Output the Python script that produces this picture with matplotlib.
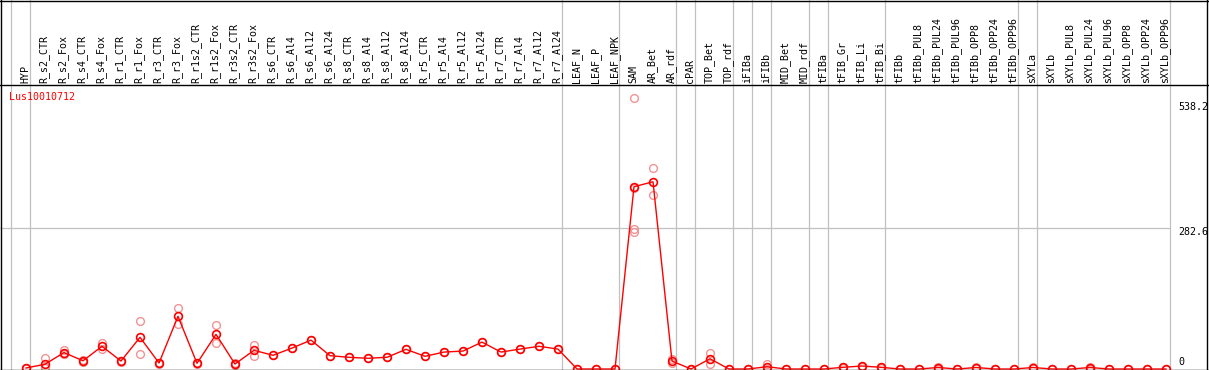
import matplotlib
matplotlib.use("Agg")
import matplotlib.pyplot as plt
from matplotlib.lines import Line2D
import numpy as np

# ---------------- data ----------------
gene = "Lus10010712"

categories = [
    "HYP",
    "R_s2_CTR", "R_s2_Fox", "R_s4_CTR", "R_s4_Fox", "R_r1_CTR", "R_r1_Fox",
    "R_r3_CTR", "R_r3_Fox", "R_r1s2_CTR", "R_r1s2_Fox", "R_r3s2_CTR", "R_r3s2_Fox",
    "R_s6_CTR", "R_s6_Al4", "R_s6_Al12", "R_s6_Al24", "R_s8_CTR", "R_s8_Al4",
    "R_s8_Al12", "R_s8_Al24", "R_r5_CTR", "R_r5_Al4", "R_r5_Al12", "R_r5_Al24",
    "R_r7_CTR", "R_r7_Al4", "R_r7_Al12", "R_r7_Al24",
    "LEAF_N", "LEAF_P", "LEAF_NPK",
    "SAM", "AR_Bet", "AR_rdf",
    "cPAR",
    "TOP_Bet", "TOP_rdf",
    "iFIBa",
    "iFIBb",
    "MID_Bet", "MID_rdf",
    "tFIBa",
    "tFIB_Gr", "tFIB_Li", "tFIB_Bi",
    "tFIBb", "tFIBb_PUL8", "tFIBb_PUL24", "tFIBb_PUL96", "tFIBb_OPP8",
    "tFIBb_OPP24", "tFIBb_OPP96",
    "sXYLa",
    "sXYLb", "sXYLb_PUL8", "sXYLb_PUL24", "sXYLb_PUL96", "sXYLb_OPP8",
    "sXYLb_OPP24", "sXYLb_OPP96",
]

group_sizes = [1, 28, 3, 3, 1, 2, 1, 1, 2, 1, 3, 7, 1, 7]

means = [2, 9.5, 33, 16.5, 45.6, 16, 63.6, 12, 105.8, 11.4, 69.6, 10, 37.5,
         27.5, 42, 58, 26.7, 23.5, 21.5, 23.5, 39.5, 25.5, 34, 36, 54,
         34, 40, 45.6, 40,
         0, 0, 0,
         366, 376, 16,
         0,
         20.5, 0,
         0,
         4.6,
         0, 0,
         0,
         3.4, 6, 3.4,
         0, 0, 3, 0, 3, 0, 0,
         3,
         0, 0, 3, 0, 0, 0, 0]

replicates = [
    [2, 3], [21.5, 5, 2], [38, 30, 31], [19, 14], [52, 40], [17, 15],
    [96, 31], [13, 11], [122, 90], [12, 11], [87.6, 51.5], [12, 8], [48.5, 26.5],
    [27.5], [42], [58], [26.7], [23.5], [21.5], [23.5], [39.5], [25.5], [34],
    [36], [54], [34], [40], [45.6], [40],
    [0], [0], [0],
    [544, 363, 280.5, 275.7], [403.6, 348.8], [19.5, 12.7],
    [0],
    [31.5, 9.4], [0],
    [0],
    [10, 0],
    [0], [0],
    [0],
    [4, 3], [7, 5], [4, 3],
    [0], [0], [5, 1], [0], [4, 2], [0], [0],
    [4, 2],
    [0], [0], [5, 1], [0], [0], [0], [0],
]

scale_labels = ["538.2", "282.6", "0"]
grid_value = 282.6

# ---------------- layout helpers ----------------
W, H = 1209, 370
X0, DX = 26, 19          # pixel x of first category and spacing
ZERO_Y, PX_PER_UNIT = 369, 0.498
HEADER_Y = 85

def fx(px):
    return px / W

def fy(py):
    return 1 - py / H

red = "#ff0000"
pink = "#f09494"
grey = "#c0c0c0"
mono = "DejaVu Sans Mono"
fs = 7.2

fig = plt.figure(figsize=(W / 100, H / 100), dpi=100)

xlim = (-X0 / DX, (W - X0) / DX)
ylim = (-(H - ZERO_Y) / PX_PER_UNIT, (ZERO_Y - HEADER_Y) / PX_PER_UNIT)

ax = fig.add_axes([0, 0, 1, fy(HEADER_Y)])
axh = fig.add_axes([0, fy(HEADER_Y), 1, HEADER_Y / H])
for a in (ax, axh):
    a.set_xlim(*xlim)
    a.set_axis_off()
ax.set_ylim(*ylim)
axh.set_ylim(0, 1)

x = np.arange(len(categories))

# group separators (full height)
bounds = np.cumsum([0] + group_sizes) - 1
off = 4 / DX
for b in bounds:
    for a in (ax, axh):
        a.axvline(b + off, color=grey, lw=0.9, zorder=1)

# horizontal gridline
ax.hlines(grid_value, xlim[0], bounds[-1] + off, color=grey, lw=0.9, zorder=1)

# replicates
for xi, reps in zip(x, replicates):
    ax.plot([xi] * len(reps), reps, linestyle="none", marker="o",
            markersize=5.6, markerfacecolor="none", markeredgecolor=pink,
            markeredgewidth=1.0, zorder=2)

# means
ax.plot(x, means, color=red, lw=1.0, marker="o", markersize=5.6,
        markerfacecolor="none", markeredgecolor=red, markeredgewidth=1.2,
        zorder=3)

# header labels
for xi, lab in zip(x, categories):
    axh.text(xi - 0.05, 2 / HEADER_Y, lab, rotation=90, ha="center",
             va="bottom", fontsize=fs, family=mono, color="black")

# gene name
fig.text(fx(9), fy(97), gene, color=red, fontsize=fs, family=mono,
         ha="left", va="center")

# scale labels
for lab, py in zip(scale_labels, [106.5, 232, 362]):
    fig.text(fx(1178), fy(py), lab, color="black", fontsize=fs, family=mono,
             ha="left", va="center")

# frame lines (black)
def fline(x0, y0, x1, y1):
    fig.add_artist(Line2D([fx(x0), fx(x1)], [fy(y0), fy(y1)],
                          transform=fig.transFigure, color="black", lw=1.0))

fline(0, 0.5, W, 0.5)
fline(0, HEADER_Y, W, HEADER_Y)
fline(0, 369.5, W, 369.5)
fline(0.5, 0, 0.5, H)
fline(1207, 0, 1207, H)

fig.savefig("out.png", dpi=100)
